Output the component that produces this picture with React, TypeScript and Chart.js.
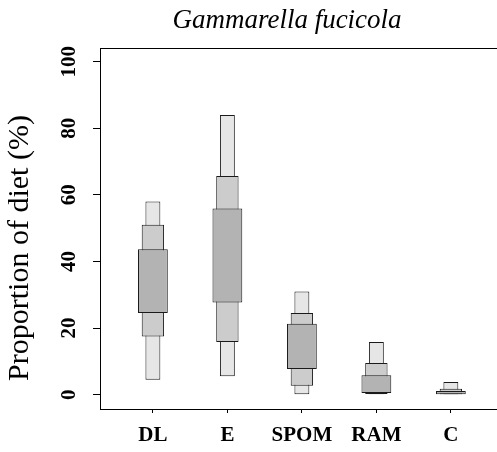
import { useEffect, useRef } from 'react';
import { Chart, registerables } from 'chart.js';

Chart.register(...registerables);

const categories = ['DL', 'E', 'SPOM', 'RAM', 'C'];
// credible intervals (proportion of diet, %)
const ci95Low = [4.5, 5.5, 0, 0, 0];
const ci95High = [58, 84, 31, 15.8, 3.8];
const ci75Low = [17.5, 15.8, 2.7, 0.2, 0.1];
const ci75High = [51, 65.7, 24.5, 9.5, 1.8];
const ci50Low = [24.5, 27.7, 7.7, 0.5, 0];
const ci50High = [43.7, 55.9, 21.3, 5.8, 1.1];
const yTickValues = [0, 20, 40, 60, 80, 100];
const chartTitle = 'Gammarella fucicola';
const yAxisTitle = 'Proportion of diet (%)';

const SERIF = "'Liberation Serif', 'Times New Roman', serif";
const CANVAS_W = 560;

export default function App() {
  const ref = useRef<HTMLCanvasElement>(null);

  useEffect(() => {
    document.body.style.margin = '0';
    document.body.style.overflow = 'hidden';
    const canvas = ref.current;
    if (!canvas) return;

    const toPoints = (lo: number[], hi: number[]) =>
      categories.map((_, i) => ({ x: i + 1, y: [lo[i], hi[i]] }));

    const decor = {
      id: 'decor',
      afterDraw(chart: any) {
        const { ctx, chartArea: a } = chart;
        ctx.save();
        ctx.strokeStyle = '#000';
        ctx.lineWidth = 1;
        ctx.beginPath();
        ctx.moveTo(a.left, Math.round(a.top) + 0.5);
        ctx.lineTo(chart.width, Math.round(a.top) + 0.5);
        ctx.stroke();

        ctx.fillStyle = '#000';
        ctx.textAlign = 'center';
        ctx.textBaseline = 'alphabetic';
        ctx.font = `italic 27px ${SERIF}`;
        ctx.fillText(chartTitle, 287, 28);

        ctx.translate(28, 248);
        ctx.rotate(-Math.PI / 2);
        ctx.font = `30px ${SERIF}`;
        ctx.fillText(yAxisTitle, 0, 0);
        ctx.restore();
      },
    };

    const border = '#1a1a1a';
    const chart = new Chart(canvas, {
      type: 'bar',
      data: {
        datasets: [
          {
            label: '50%',
            data: toPoints(ci50Low, ci50High) as any,
            backgroundColor: '#b3b3b3',
            borderColor: border,
            borderWidth: 1,
            borderSkipped: false,
            grouped: false,
            categoryPercentage: 1,
            barPercentage: 0.4,
          },
          {
            label: '75%',
            data: toPoints(ci75Low, ci75High) as any,
            backgroundColor: '#cccccc',
            borderColor: border,
            borderWidth: 1,
            borderSkipped: false,
            grouped: false,
            categoryPercentage: 1,
            barPercentage: 0.3,
          },
          {
            label: '95%',
            data: toPoints(ci95Low, ci95High) as any,
            backgroundColor: '#e6e6e6',
            borderColor: border,
            borderWidth: 1,
            borderSkipped: false,
            grouped: false,
            categoryPercentage: 1,
            barPercentage: 0.2,
          },
        ],
      },
      options: {
        animation: false,
        responsive: false,
        maintainAspectRatio: false,
        layout: { padding: { top: 48, left: 0, right: 0, bottom: 0 } },
        plugins: { legend: { display: false }, tooltip: { enabled: false } },
        scales: {
          x: {
            type: 'linear',
            min: 0.29,
            max: 6.465,
            offset: false,
            afterBuildTicks: (s: any) => {
              s.ticks = categories.map((_, i) => ({ value: i + 1 }));
            },
            afterFit: (s: any) => {
              s.height = 43;
            },
            grid: {
              offset: false,
              drawOnChartArea: false,
              drawTicks: true,
              tickLength: 4,
              color: '#000',
            },
            border: { display: true, color: '#000', width: 1 },
            ticks: {
              autoSkip: false,
              maxRotation: 0,
              padding: 10,
              color: '#000',
              font: { family: SERIF, size: 21, weight: 'bold' },
              callback: (v: any) => categories[Number(v) - 1] ?? '',
            },
          },
          y: {
            type: 'linear',
            min: -4.3,
            max: 104.1,
            afterBuildTicks: (s: any) => {
              s.ticks = yTickValues.map((v) => ({ value: v }));
            },
            afterFit: (s: any) => {
              s.width = 100;
            },
            grid: {
              drawOnChartArea: false,
              drawTicks: true,
              tickLength: 7,
              color: '#000',
            },
            border: { display: true, color: '#000', width: 1 },
            ticks: {
              minRotation: 90,
              maxRotation: 90,
              crossAlign: 'center',
              padding: 8,
              color: '#000',
              font: { family: SERIF, size: 21, weight: 'bold' },
              callback: (v: any) => String(v),
            },
          },
        },
      } as any,
      plugins: [decor],
    });

    return () => chart.destroy();
  }, []);

  return (
    <div style={{ width: 497, height: 452, overflow: 'hidden' }}>
      <canvas
        ref={ref}
        width={CANVAS_W}
        height={452}
        style={{ display: 'block', width: CANVAS_W, height: 452 }}
      />
    </div>
  );
}
